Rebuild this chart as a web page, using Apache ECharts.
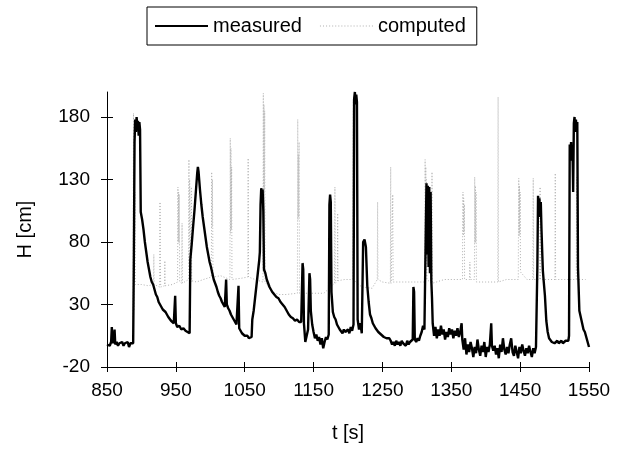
<!DOCTYPE html>
<html>
<head>
<meta charset="utf-8">
<script src="https://cdn.jsdelivr.net/npm/echarts@6/dist/echarts.min.js"></script>
<style>html,body{margin:0;padding:0;background:#fff;}#c{width:623px;height:461px;}</style>
</head>
<body>
<div id="c"></div>
<script>
var measuredT = [850,852,854,856,857,858,860,861,862,864,866,868,870,872,874,876,878,880,882,884,886,888,
889,890,891,892,893,894,895,896,897,898,899,901,903,905,907,909,911,913,915,917,919,921,923,925,927,929,931,933,935,937,939,941,943,945,947,948,949,950,952,955,958,961,964,967,970,
971,973,975,977,979,981,982,983,985,987,989,991,993,995,997,999,1001,1003,1005,1007,1009,1011,1013,1015,1017,1019,1021,1022,1023,1024,1026,1028,1030,1032,1034,1036,1038,1040,1041,1042,1044,1046,1048,1050,1052,1054,1056,1058,1060,
1061,1063,1065,1067,1069,1071,1072,1073,1074,1075,1076,1077,1078,1080,1082,1084,1086,1088,1090,1093,1096,1099,1102,1105,1108,1111,1114,1117,1120,1123,1126,1129,1132,
1134,1135,1136,1138,1140,1142,1144,1145,1146,1148,1150,1152,1154,1156,1158,1160,1162,1164,1166,1168,1170,1172,1173,1174,1175,1176,1178,1180,1182,1184,1186,1188,1190,1192,1194,1196,1198,1200,1202,1204,1206,1208,
1209,1210,1211,1212,1213,1214,1216,1218,1220,1222,1224,1226,1228,1230,1232,1234,1236,1238,1240,1242,1244,1246,1248,1250,1252,1254,1256,1258,1260,1262,1264,1266,1268,1270,1272,1274,1276,1278,1280,1282,1284,1286,1288,1290,1292,1294,
1295,1296,1297,1299,1301,1303,1305,1307,1309,1311,1313,1314,1315,1316,1317,1318,1319,1320,1321,1322,1323,1325,1327,1329,1331,1333,1335,1337,1339,1341,1343,1345,1347,1349,1351,1353,1355,1357,1359,1361,1363,1365,1366,
1368,1370,1372,1374,1376,1378,1380,1382,1384,1386,1388,1390,1392,1394,1396,1398,1400,1402,1404,1406,1408,1409,1411,1413,1415,1417,1419,1421,1423,1425,1427,1429,1431,1433,1435,1437,1439,1441,1443,1445,1447,1449,1451,1453,1455,1457,1459,1461,1463,1465,1467,1469,1471,1473,
1475,1476,1477,1478,1479,1480,1481,1482,1483,1484,1486,1488,1490,1492,1494,1496,1498,1500,1502,1504,1506,1508,1510,1512,1514,1516,1518,1520,1521,
1522,1523,1524,1525,1526,1527,1528,1529,1530,1531,1532,1533,1534,1536,1538,1540,1542,1544,1546,1548,1550];
var measuredH = [-2,-1,-3,0,12,-1,2,10,-2,0,-3,-1,-2,0,-3,-1,-2,0,-4,-1,-2,-1,
67,160,178,168,180,172,177,165,176,170,104,98,90,80,72,64,58,52,48,46,42,38,36,32,30,28,26,27,24,22,20,19,17,18,15,14,37,15,12,13,10,11,9,8,7,
66,78,92,105,120,135,140,136,122,110,100,92,84,76,70,64,60,55,50,47,44,40,37,35,32,30,28,27,50,30,27,25,22,20,18,16,14,13,45,11,9,7,6,5,4,5,3,3,4,
18,25,35,45,55,65,72,110,123,118,122,105,58,55,50,47,44,42,40,38,36,35,32,30,28,25,22,20,19,17,18,16,16,
63,58,15,0,5,10,55,50,25,14,8,3,6,1,4,-2,3,-5,0,4,2,6,110,118,112,40,24,20,18,14,12,10,9,7,10,8,8,10,7,12,9,14,
195,200,190,198,192,18,10,15,7,80,82,76,45,32,22,19,15,13,11,10,8,7,6,5,4,5,3,4,3,1,-2,0,-3,1,-2,0,-3,1,-1,0,-3,1,-2,0,-1,2,
44,40,2,0,3,1,5,8,13,10,90,127,70,125,60,124,55,120,49,35,15,5,12,3,10,5,13,6,10,2,8,4,11,6,10,3,9,5,11,4,8,15,2,
-6,3,-10,-2,-8,0,-5,-12,-4,-9,2,-6,-11,-3,-8,0,-12,-4,-8,-2,15,-3,-7,-3,-10,-5,-13,-2,-8,3,-6,-10,-4,-9,-2,3,-8,-11,-3,-8,-13,-4,-9,-2,-7,-11,-5,-9,-3,-8,-12,-5,-9,-4,
60,117,105,115,100,112,90,73,57,50,37,17,8,3,2,0,1,-1,0,1,-1,0,1,-1,0,1,0,1,5,
158,150,160,145,156,120,175,180,168,178,170,176,60,25,20,15,10,8,4,0,-4];

// computed: baseline points directly around each rapid oscillation burst
var computedT = [888,888.5,889,889.5,890,890.5,891,891.5,900,910,917.5,918,918.5,926.5,927,927.5,928,933.5,934,934.5,945,
952.5,953,953.5,954,954.5,955,955.5,958.5,959,959.5,968.5,969,969.5,970,972,972.5,973,980,990,
1001.5,1002,1002.5,1003,1003.5,1004,1015,1028.5,1029,1029.5,1030,1030.5,1031,1031.5,1045,1054.5,1055,1055.5,1065,
1076.5,1077,1077.5,1078,1078.5,1079,1079.5,1090,1100,1110,1126.5,1127,1127.5,1128,1128.5,1129,1129.5,1134.5,1135,1135.5,1150,1165,
1180.5,1181,1181.5,1184.5,1185,1185.5,1195,1206.5,1207,1207.5,1220,1235,1242.5,1243,1243.5,1250,
1261.5,1262,1262.5,1264.5,1265,1265.5,1290,1311.3,1311.5,1312,1312.5,1313,1313.5,1314,1314.5,1321.5,1322,1322.5,1340,
1366.3,1366.5,1367,1367.5,1368,1368.5,1369,1369.3,1376.5,1377,1377.5,1383.5,1383.8,1384,1384.5,1385,1385.5,1386,1386.5,1400,
1417.5,1418,1418.5,1430,1447.3,1447.5,1448,1448.5,1449,1449.5,1450,1450.5,1460,1468.5,1469,1469.5,1478.5,1479,1479.5,1490,
1500.5,1501,1501.5,1515,1531.5,1532,1532.5,1545];
var computedH = [20,183,25,150,48,120,46,46,46,45,46,70,46,44,112,60,44,45,65,45,46,
48,124,80,120,79,118,48,47,95,47,50,146,60,130,48,124,49,48,50,
52,136,92,130,95,52,53,50,163,87,155,90,140,50,51,52,147,52,50,
48,199,60,190,70,185,48,40,38,38,39,178,98,150,100,160,39,39,64,39,39,39,
47,124,47,49,103,49,50,50,194,50,44,43,50,112,50,48,
47,140,47,48,118,48,48,48,62,146,62,140,65,130,50,47,136,47,50,
50,85,120,85,115,88,110,50,50,64,50,50,79,132,79,125,80,120,48,48,
48,196,48,50,50,85,131,85,125,86,120,56,50,50,131,50,50,124,50,50,
50,135,50,50,50,132,50,50];

var yTicks = [-20, 30, 80, 130, 180];
var xTicks = [850, 950, 1050, 1150, 1250, 1350, 1450, 1550];

function zip(a, b) { var r = []; for (var i = 0; i < a.length; i++) r.push([a[i], b[i]]); return r; }

var dotPath = 'path://';
for (var k = 0; k <= 51; k += 3) dotPath += 'M' + k + ',0h1v1h-1z';

var font = 'Liberation Sans, Arial, sans-serif';
var chart = echarts.init(document.getElementById('c'), null, {renderer: 'canvas'});
var plain = function (v) { return String(v); };
chart.setOption({
  animation: false,
  backgroundColor: '#fff',
  textStyle: {fontFamily: font, color: '#000'},
  legend: {
    left: 147, top: 7,
    padding: [9, 11, 9, 8],
    borderColor: '#000', borderWidth: 1,
    itemWidth: 53, itemHeight: 2, itemGap: 18,
    textStyle: {fontSize: 20, color: '#000', fontFamily: font, lineHeight: 20},
    data: [{name: 'measured', icon: 'rect'}, {name: 'computed', icon: dotPath}]
  },
  grid: {left: 107, right: 34, top: 92, bottom: 94, containLabel: false},
  xAxis: [{
    type: 'value', min: 850, max: 1550, interval: 100,
    axisLine: {show: true, onZero: false, lineStyle: {color: '#000', width: 1}},
    axisTick: {show: true, length: 5, lineStyle: {color: '#000'}, customValues: xTicks},
    axisLabel: {fontSize: 19, color: '#000', margin: 14, fontFamily: font, customValues: xTicks, formatter: plain},
    splitLine: {show: false},
    name: 't [s]', nameLocation: 'middle', nameGap: 56,
    nameTextStyle: {fontSize: 20, color: '#000', fontFamily: font}
  }, {
    type: 'value', min: 850, max: 1550, interval: 100, position: 'bottom', offset: 0,
    axisLine: {show: false, onZero: false},
    axisTick: {show: true, inside: true, length: 5, lineStyle: {color: '#000'}, customValues: xTicks},
    axisLabel: {show: false}, splitLine: {show: false}
  }],
  yAxis: [{
    type: 'value', min: -20, max: 200, interval: 50,
    axisLine: {show: true, onZero: false, lineStyle: {color: '#000', width: 1}},
    axisTick: {show: true, length: 6, lineStyle: {color: '#000'}, customValues: yTicks},
    axisLabel: {fontSize: 19, color: '#000', margin: 17, fontFamily: font, customValues: yTicks, formatter: plain},
    splitLine: {show: false},
    name: 'H [cm]', nameLocation: 'middle', nameGap: 72, nameRotate: 90,
    nameTextStyle: {fontSize: 20, color: '#000', fontFamily: font}
  }, {
    type: 'value', min: -20, max: 200, interval: 50, position: 'left', offset: 0,
    axisLine: {show: false, onZero: false},
    axisTick: {show: true, inside: true, length: 6, lineStyle: {color: '#000'}, customValues: yTicks},
    axisLabel: {show: false}, splitLine: {show: false}
  }],
  series: [{
    name: 'computed', type: 'line', data: zip(computedT, computedH),
    showSymbol: false, symbol: 'none', z: 1,
    lineStyle: {color: '#b0b0b0', width: 1, type: [1, 2]},
    itemStyle: {color: '#b0b0b0'}
  }, {
    name: 'measured', type: 'line', data: zip(measuredT, measuredH),
    showSymbol: false, symbol: 'none', z: 2,
    lineStyle: {color: '#000', width: 2.4},
    itemStyle: {color: '#000'}
  }]
});
</script>
</body>
</html>
